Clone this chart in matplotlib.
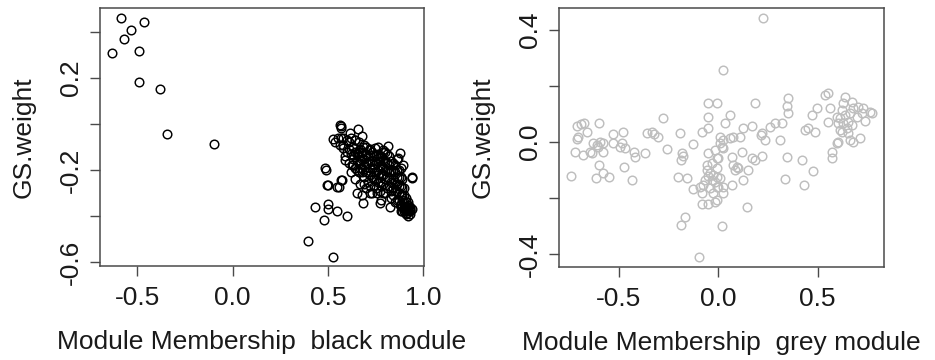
import matplotlib
matplotlib.use("Agg")
import matplotlib.pyplot as plt

plt.rcParams['font.family'] = ['Liberation Sans', 'DejaVu Sans']

# ---------------- data: black module ----------------
black_mm = [
    -0.586, -0.465, -0.531, -0.570, -0.631, -0.493, -0.493, -0.381, -0.346, -0.100,
    0.395, 0.524, 0.491, 0.497, 0.434, 0.497, 0.502, 0.476, 0.545, 0.601,
    0.556, 0.570, 0.941,
    0.563, 0.566, 0.659, 0.677, 0.528, 0.537, 0.580, 0.580, 0.615, 0.642,
    0.747, 0.790, 0.816, 0.712, 0.720, 0.685, 0.659, 0.633, 0.484, 0.493,
    0.545, 0.572, 0.589, 0.624, 0.650, 0.677, 0.685, 0.720, 0.755, 0.773,
    0.825, 0.878, 0.913, 0.930, 0.939, 0.878, 0.869, 0.895, 0.860,
    0.60, 0.61, 0.62, 0.63, 0.63, 0.64, 0.64, 0.65, 0.66, 0.66, 0.66, 0.67, 0.67,
    0.68, 0.68, 0.69, 0.69, 0.70, 0.70, 0.70, 0.71, 0.71, 0.72, 0.72, 0.73, 0.73,
    0.73, 0.74, 0.74, 0.75, 0.75, 0.76, 0.76, 0.77, 0.77, 0.77, 0.78, 0.78, 0.79,
    0.79, 0.80, 0.80, 0.80, 0.81, 0.81, 0.82, 0.82, 0.83, 0.83, 0.84, 0.84, 0.85,
    0.85, 0.86, 0.86, 0.86, 0.87, 0.87, 0.88, 0.88, 0.88, 0.89, 0.89, 0.90, 0.90,
    0.90, 0.91, 0.91, 0.91, 0.92, 0.92, 0.92, 0.93, 0.93, 0.90, 0.91, 0.92, 0.89,
    0.93, 0.91,
    0.62, 0.65, 0.67, 0.69, 0.70, 0.72, 0.74, 0.75, 0.76, 0.78, 0.79, 0.81, 0.82,
    0.84, 0.85, 0.87, 0.88, 0.89, 0.64, 0.68, 0.71, 0.73, 0.76, 0.79, 0.83, 0.86,
    0.58, 0.59, 0.61, 0.57, 0.55, 0.56, 0.57,
    0.60, 0.62, 0.64, 0.61, 0.63, 0.65, 0.66, 0.67, 0.68, 0.69, 0.69, 0.70, 0.71,
    0.72, 0.72, 0.73, 0.74, 0.74, 0.75, 0.75, 0.76, 0.76, 0.77, 0.77, 0.78, 0.78,
    0.79, 0.79, 0.80, 0.80, 0.81, 0.81, 0.82, 0.82, 0.83, 0.83, 0.84, 0.84, 0.85,
    0.85, 0.86, 0.86, 0.87, 0.87, 0.88, 0.89, 0.90, 0.91, 0.92, 0.93, 0.94, 0.90,
    0.92, 0.88, 0.89,
]
black_gs = [
    0.462, 0.443, 0.409, 0.368, 0.310, 0.316, 0.183, 0.154, -0.042, -0.088,
    -0.509, -0.580, -0.200, -0.265, -0.359, -0.348, -0.371, -0.417, -0.378, -0.400,
    -0.272, -0.243, -0.230,
    -0.004, -0.019, -0.022, -0.051, -0.065, -0.077, -0.059, -0.106, -0.041, -0.070,
    -0.106, -0.113, -0.094, -0.113, -0.135, -0.099, -0.120, -0.135, -0.193, -0.265,
    -0.272, -0.243, -0.157, -0.178, -0.301, -0.309, -0.345, -0.301, -0.301, -0.345,
    -0.359, -0.352, -0.388, -0.374, -0.236, -0.128, -0.149, -0.178, -0.200,
    -0.12, -0.17, -0.21, -0.10, -0.15, -0.19, -0.24, -0.13, -0.08, -0.17, -0.21, -0.11, -0.26,
    -0.15, -0.19, -0.23, -0.09, -0.13, -0.17, -0.28, -0.21, -0.25, -0.11, -0.16, -0.19, -0.23,
    -0.30, -0.14, -0.27, -0.17, -0.21, -0.10, -0.25, -0.14, -0.19, -0.29, -0.22, -0.33, -0.16,
    -0.26, -0.12, -0.20, -0.30, -0.23, -0.17, -0.27, -0.14, -0.20, -0.32, -0.24, -0.17, -0.29,
    -0.21, -0.26, -0.33, -0.15, -0.23, -0.30, -0.19, -0.27, -0.35, -0.24, -0.31, -0.28, -0.34,
    -0.37, -0.32, -0.36, -0.39, -0.35, -0.38, -0.37, -0.36, -0.38, -0.38, -0.37, -0.36, -0.36,
    -0.37, -0.38,
    -0.13, -0.16, -0.19, -0.15, -0.21, -0.19, -0.18, -0.24, -0.20, -0.18, -0.22, -0.20, -0.24,
    -0.28, -0.25, -0.27, -0.31, -0.33, -0.12, -0.12, -0.14, -0.16, -0.16, -0.12, -0.16, -0.20,
    -0.09, -0.14, -0.08, -0.06, -0.06, -0.09, -0.01,
    -0.07, -0.06, -0.07, -0.11, -0.18, -0.20, -0.14, -0.16, -0.21, -0.18, -0.26, -0.10, -0.17,
    -0.22, -0.27, -0.12, -0.21, -0.24, -0.14, -0.28, -0.13, -0.22, -0.16, -0.25, -0.14, -0.27,
    -0.19, -0.30, -0.16, -0.24, -0.13, -0.28, -0.18, -0.21, -0.25, -0.29, -0.20, -0.31, -0.18,
    -0.34, -0.23, -0.29, -0.20, -0.33, -0.23, -0.28, -0.31, -0.34, -0.34, -0.39, -0.37, -0.36,
    -0.40, -0.38, -0.38,
]

# ---------------- data: grey module ----------------
grey_mm = [
    -0.743, -0.721, -0.713, -0.693, -0.676, -0.713, -0.705, -0.663, -0.599, -0.629,
    -0.612, -0.596, -0.579, -0.638, -0.683, -0.579, -0.599, -0.582, -0.616, -0.549,
    -0.532, -0.529, -0.487, -0.478, -0.495, -0.470, -0.475, -0.436, -0.425, -0.419,
    -0.369, -0.357, -0.336, -0.324, -0.302, -0.280, -0.257, -0.201, -0.193, -0.185,
    -0.190, -0.176, -0.159, -0.188, -0.168, -0.129, -0.126, -0.099, -0.092, -0.084,
    -0.084, -0.084, -0.050, -0.042, -0.025, -0.008, -0.017, 0.000, 0.025, 0.008,
    -0.034, -0.017, -0.050, -0.025, -0.008, -0.059, -0.059, -0.050, -0.008, -0.017,
    0.017, -0.050, -0.050, -0.050, -0.008, 0.022, 0.008, 0.025, 0.034, 0.059,
    0.059, 0.076, 0.109, 0.067, 0.076, 0.101, 0.084, 0.067, 0.117, 0.126,
    0.126, 0.151, 0.143, 0.017, 0.168, 0.185, 0.168, 0.185, 0.218, 0.223,
    0.218, 0.235, 0.260, 0.285, 0.319, 0.310, 0.344, 0.336, 0.352, 0.347,
    0.352, 0.419, 0.431, 0.436, 0.453, 0.487, 0.475, 0.470, 0.495, 0.537,
    0.554, 0.562, 0.554, 0.570, 0.570, 0.596, 0.596, 0.604, 0.612, 0.621,
    0.604, 0.612, 0.629, 0.638, 0.629, 0.638, 0.654, 0.646, 0.654, 0.663,
    0.671, 0.663, 0.671, 0.680, 0.680, 0.696, 0.705, 0.713, 0.721, 0.730,
    0.738, 0.763, 0.772, 0.621,
    -0.604, -0.646, -0.008, -0.008, 0.000, 0.008, 0.025, 0.025, 0.092, 0.213,
    -0.034, -0.042, -0.067, -0.076,
]
grey_gs = [
    -0.121, -0.035, 0.057, 0.064, 0.067, 0.010, 0.019, 0.037, 0.067, -0.005,
    -0.011, 0.001, -0.002, -0.040, -0.046, -0.035, -0.082, -0.110, -0.130, -0.126,
    0.029, -0.005, -0.005, 0.037, -0.017, -0.023, -0.088, -0.136, -0.035, -0.052,
    -0.040, 0.033, 0.037, 0.029, 0.019, 0.085, -0.026, -0.124, 0.031, -0.040,
    -0.064, -0.050, -0.130, -0.296, -0.269, -0.007, -0.169, -0.412, -0.160, -0.183,
    -0.221, 0.037, -0.221, -0.165, -0.183, -0.207, -0.213, -0.160, -0.183, -0.130,
    -0.136, -0.142, -0.121, -0.118, -0.094, -0.082, -0.100, -0.040, -0.058, -0.029,
    -0.017, 0.049, 0.088, 0.138, 0.140, 0.257, 0.019, 0.007, 0.067, 0.096,
    0.013, 0.019, 0.019, -0.052, -0.082, -0.094, -0.100, -0.154, -0.035, 0.049,
    -0.136, -0.100, -0.231, -0.300, 0.057, 0.138, -0.058, -0.064, 0.031, 0.442,
    -0.050, 0.007, 0.052, 0.067, 0.067, 0.007, -0.052, -0.133, 0.156, 0.129,
    0.105, -0.064, -0.155, 0.043, 0.049, 0.037, -0.102, 0.096, 0.123, 0.168,
    0.174, 0.120, 0.073, -0.035, -0.058, -0.002, 0.090, 0.067, 0.043, 0.037,
    0.001, 0.085, 0.067, 0.162, 0.138, 0.096, 0.073, 0.049, 0.031, 0.007,
    0.144, 0.102, 0.061, 0.120, 0.001, 0.090, 0.126, 0.013, 0.102, 0.120,
    0.076, 0.106, 0.102, 0.114,
    -0.017, -0.035, -0.124, -0.160, -0.057, -0.005, -0.023, -0.160, -0.088, 0.025,
    -0.076, -0.112, -0.136, -0.154,
]

panels = [
    dict(x=black_mm, y=black_gs, color='black',
         xlabel='Module Membership  black module',
         xticks=[-0.5, 0.0, 0.5, 1.0], xticklabels=['-0.5', '0.0', '0.5', '1.0'],
         yticks=[0.4, 0.2, 0.0, -0.2, -0.4, -0.6],
         yticklabels=['', '0.2', '', '-0.2', '', '-0.6'],
         xlim=(-0.696, 1.003), ylim=(-0.616, 0.503),
         rect=[100 / 935, 1 - 265.7 / 360, 324 / 935, 257.4 / 360]),
    dict(x=grey_mm, y=grey_gs, color='#bebebe',
         xlabel='Module Membership  grey module',
         xticks=[-0.5, 0.0, 0.5], xticklabels=['-0.5', '0.0', '0.5'],
         yticks=[0.4, 0.2, 0.0, -0.2, -0.4],
         yticklabels=['0.4', '', '0.0', '', '-0.4'],
         xlim=(-0.80, 0.835), ylim=(-0.445, 0.477),
         rect=[559.3 / 935, 1 - 266.7 / 360, 325 / 935, 258.4 / 360]),
]

fig = plt.figure(figsize=(9.35, 3.6), dpi=100)
spine_col = '#4a4a4a'
fs = 19

for p in panels:
    ax = fig.add_axes(p['rect'])
    ax.plot(p['x'], p['y'], linestyle='none', marker='o', markersize=6.2,
            markerfacecolor='none', markeredgecolor=p['color'], markeredgewidth=1.05)
    ax.set_xlim(*p['xlim'])
    ax.set_ylim(*p['ylim'])
    ax.set_xticks(p['xticks'], p['xticklabels'])
    ax.set_yticks(p['yticks'], p['yticklabels'])
    for s in ax.spines.values():
        s.set_color(spine_col)
        s.set_linewidth(1.1)
    ax.tick_params(direction='out', length=7.5, width=1.0, color=spine_col,
                   labelsize=fs, labelcolor='#1a1a1a')
    ax.tick_params(axis='x', pad=7)
    ax.tick_params(axis='y', pad=5)
    plt.setp(ax.get_yticklabels(), rotation=90, va='center', ha='right')
    ax.set_xlabel(p['xlabel'], fontsize=fs, color='#1a1a1a', va='center')
    ax.xaxis.set_label_coords(0.5, -76 / 258)
    ax.set_ylabel('GS.weight', fontsize=fs, color='#1a1a1a', va='center')
    ax.yaxis.set_label_coords(-77 / 325, 0.5)

fig.savefig('out.png', dpi=100)
